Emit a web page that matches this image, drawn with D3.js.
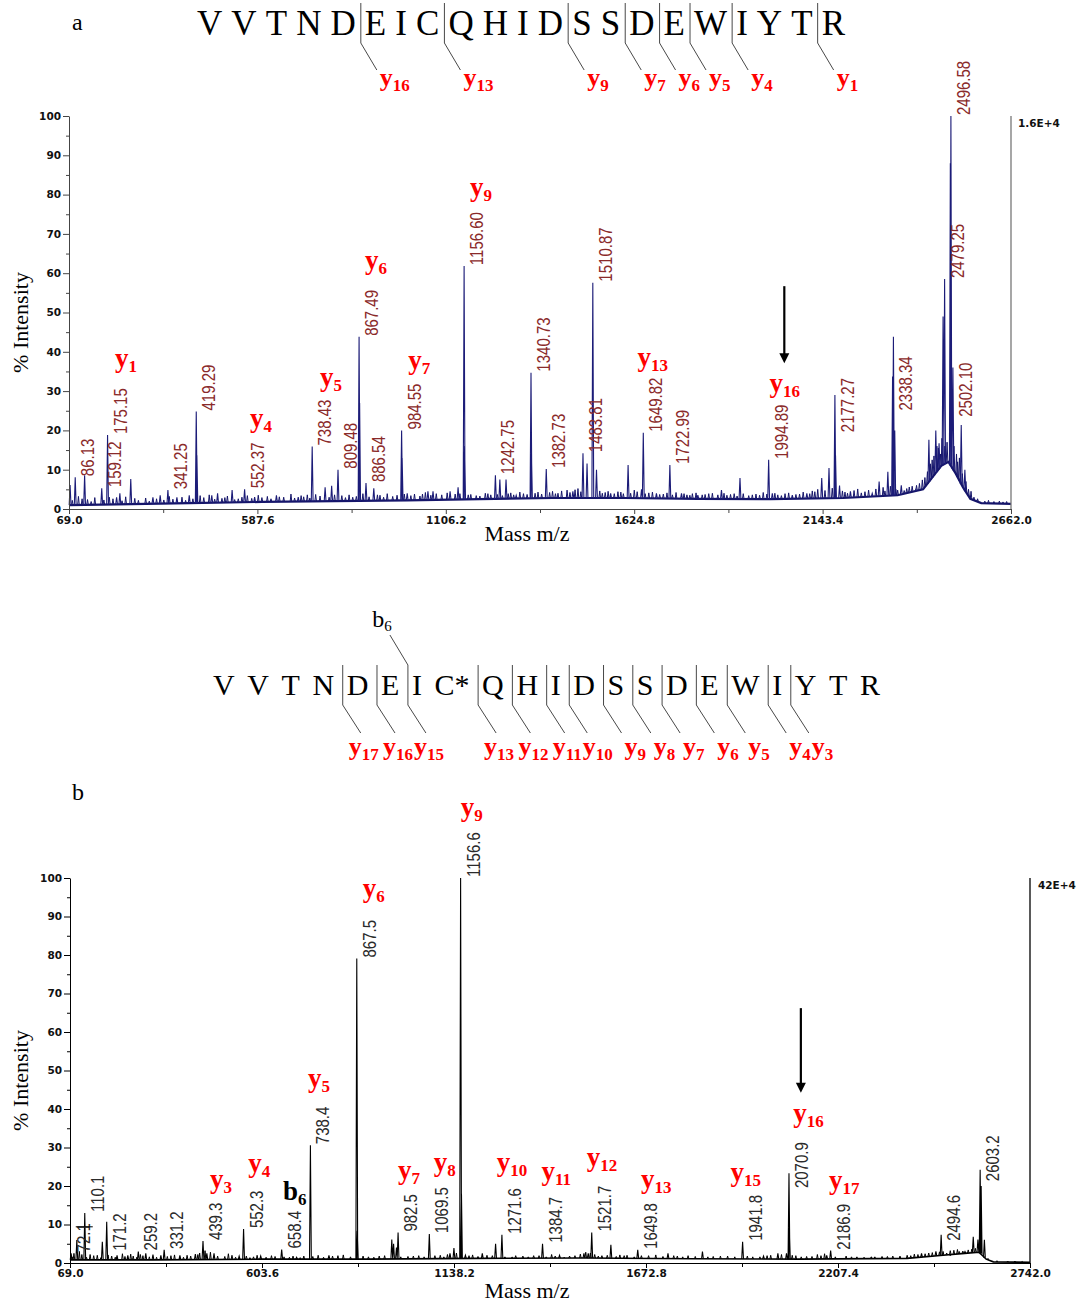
<!DOCTYPE html>
<html>
<head>
<meta charset="utf-8">
<script src="https://cdn.jsdelivr.net/npm/d3@7"></script>
<style>
  body { margin: 0; background: #fff; }
  svg { display: block; }
</style>
</head>
<body>
<svg id="fig" width="1079" height="1309"></svg>
<script>
// ---------------- data ----------------
// peptide sequences (b has the modified cysteine)
const seqA = ["V","V","T","N","D","E","I","C","Q","H","I","D","S","S","D","E","W","I","Y","T","R"];
const seqB = ["V","V","T","N","D","E","I","C*","Q","H","I","D","S","S","D","E","W","I","Y","T","R"];
const yIonsA = [16, 13, 9, 7, 6, 5, 4, 1];
const yIonsB = [17, 16, 15, 13, 12, 11, 10, 9, 8, 7, 6, 5, 4, 3];
const bIonsB = [6];

// axis ticks
const xTicksA = [69.0, 587.6, 1106.2, 1624.8, 2143.4, 2662.0];
const xTicksB = [69.0, 603.6, 1138.2, 1672.8, 2207.4, 2742.0];
const yTicks = [0, 10, 20, 30, 40, 50, 60, 70, 80, 90, 100];
const yMinorTicks = [5, 15, 25, 35, 45, 55, 65, 75, 85, 95];
const maxCountA = "1.6E+4";
const maxCountB = "42E+4";

// spectrum a: annotated peaks [m/z, % intensity]
const labeledA = [
  [86.13, 8.1], [159.12, 5.3], [175.15, 18.8], [341.25, 4.8], [419.29, 24.8],
  [552.37, 5.0], [738.43, 15.9], [809.48, 10.0], [867.49, 43.8], [886.54, 6.6],
  [984.55, 20.0], [1156.60, 61.8], [1242.75, 8.6], [1340.73, 34.7], [1382.73, 10.2],
  [1483.81, 14.2], [1510.87, 57.6], [1649.82, 19.4], [1722.99, 11.2], [1994.89, 12.5],
  [2177.27, 29.0], [2338.34, 43.8], [2479.25, 58.5], [2496.58, 100], [2502.10, 36.0]
];
// spectrum a: other visible peaks
const peaksA = [
  [72, 6.1], [112, 8.6], [200, 3.0], [209, 4.0], [239, 7.6], [300, 3.0], [320, 3.5],
  [366, 3.0], [400, 3.5], [421, 13.7], [462, 3.5], [478, 4.0], [518, 4.8], [580, 3.0],
  [640, 3.5], [700, 3.0], [774, 5.5], [792, 5.9], [869, 27.0], [908, 5.3], [986, 13.0],
  [1000, 4.0], [1057, 4.5], [1071, 4.5], [1118, 4.5], [1140, 5.5], [1158, 16.0],
  [1255, 7.5], [1272, 7.5], [1300, 3.5], [1342, 14.0], [1456, 4.5], [1495, 11.6],
  [1521, 10.0], [1560, 4.0], [1608, 11.2], [1645, 5.0], [1686, 4.0], [1755, 4.0],
  [1800, 3.5], [1865, 4.8], [1916, 7.9], [2005, 4.0], [2060, 3.5], [2100, 4.0],
  [2141, 7.9], [2161, 10.4], [2179, 13.6], [2190, 6.0], [2220, 4.5], [2280, 4.0],
  [2299, 7.0], [2323, 9.5], [2336, 33.7], [2342, 20.0], [2360, 6.0], [2400, 5.0],
  [2436, 17.6], [2455, 20.0], [2464, 16.7], [2475, 49.0], [2495, 88.0], [2525, 21.4],
  [2535, 10.0]
];
// spectrum a: baseline noise spikes
const noiseA = [
  [78, 2.2], [95, 3.2], [105, 2.6], [120, 2.4], [130, 1.9], [140, 2.9], [165, 2.3],
  [180, 3.0], [190, 2.6], [215, 2.1], [225, 3.1], [250, 2.7], [260, 2.2], [280, 2.8],
  [290, 2.0], [310, 2.6], [330, 2.3], [345, 3.2], [355, 2.5], [380, 3.0], [390, 2.2],
  [410, 2.6], [430, 3.4], [440, 2.9], [455, 3.6], [470, 2.5], [490, 2.7], [498, 2.9],
  [505, 3.3], [525, 2.4], [535, 2.6], [545, 3.0], [560, 3.4], [572, 2.7], [590, 3.5],
  [600, 2.9], [615, 3.2], [625, 2.6], [648, 3.1], [660, 3.0], [680, 3.8], [690, 2.8],
  [708, 3.4], [715, 3.1], [725, 3.6], [732, 2.8], [748, 3.7], [760, 3.3], [785, 3.0],
  [800, 3.6], [820, 3.4], [830, 2.9], [840, 3.6], [850, 3.0], [860, 3.2], [878, 3.9],
  [895, 3.1], [918, 3.6], [925, 3.5], [935, 3.0], [945, 3.9], [960, 3.2], [972, 3.5],
  [992, 3.8], [1010, 3.4], [1020, 3.8], [1035, 3.3], [1042, 3.8], [1050, 4.2],
  [1065, 3.5], [1080, 3.9], [1095, 3.6], [1110, 4.1], [1132, 3.8], [1145, 3.9],
  [1168, 3.6], [1175, 3.7], [1190, 3.4], [1200, 3.3], [1215, 4.0], [1222, 3.9],
  [1230, 3.6], [1248, 3.7], [1262, 3.4], [1278, 3.9], [1285, 4.1], [1293, 3.6],
  [1310, 4.3], [1320, 3.9], [1330, 3.7], [1352, 4.0], [1360, 4.3], [1370, 3.8],
  [1392, 4.2], [1400, 4.5], [1408, 3.9], [1415, 4.0], [1425, 4.6], [1440, 4.8],
  [1448, 4.2], [1462, 4.9], [1470, 5.2], [1478, 4.4], [1530, 4.6], [1537, 4.0],
  [1545, 4.2], [1553, 4.5], [1570, 3.9], [1580, 4.4], [1588, 4.3], [1595, 3.9],
  [1615, 4.0], [1625, 4.8], [1633, 4.4], [1655, 3.9], [1665, 4.1], [1675, 4.3],
  [1695, 3.7], [1705, 3.8], [1715, 4.1], [1730, 3.6], [1740, 4.2], [1762, 3.9],
  [1770, 3.6], [1778, 3.5], [1785, 3.9], [1795, 4.1], [1812, 3.6], [1820, 3.7],
  [1830, 3.9], [1840, 4.0], [1855, 3.6], [1872, 4.0], [1880, 3.5], [1890, 3.7],
  [1900, 3.9], [1908, 3.3], [1925, 3.9], [1940, 3.4], [1950, 3.6], [1960, 3.8],
  [1970, 3.5], [1980, 4.2], [1990, 3.8], [2012, 4.0], [2020, 3.6], [2030, 3.4],
  [2040, 3.9], [2050, 4.1], [2070, 3.7], [2080, 3.8], [2090, 4.3], [2108, 3.9],
  [2115, 4.6], [2122, 4.4], [2130, 5.0], [2150, 4.7], [2170, 5.3], [2198, 4.6],
  [2205, 4.3], [2212, 4.0], [2230, 4.7], [2240, 5.1], [2250, 4.1], [2260, 4.4],
  [2270, 4.8], [2290, 5.1], [2310, 5.5], [2315, 4.6], [2330, 5.8], [2345, 5.0],
  [2350, 4.8], [2368, 4.7], [2375, 5.2], [2382, 5.6], [2390, 5.8], [2402, 6.0],
  [2410, 6.5], [2418, 7.4], [2425, 8.0], [2432, 9.5], [2440, 11.5], [2445, 12.5],
  [2450, 13.5], [2458, 16.0], [2462, 15.5], [2468, 14.0], [2472, 18.0], [2480, 16.0],
  [2486, 17.0], [2505, 16.0], [2512, 14.0], [2515, 12.0], [2520, 13.0], [2528, 9.0],
  [2538, 7.0], [2545, 5.0], [2552, 4.5], [2560, 3.0], [2570, 2.6], [2590, 2.0],
  [2600, 2.2], [2615, 1.9], [2630, 2.0], [2640, 1.8], [2650, 1.9]
];
const baselineA = [
  [69, 1.0], [200, 1.2], [400, 1.5], [600, 1.8], [800, 2.0], [1000, 2.2], [1200, 2.5],
  [1400, 2.8], [1600, 2.8], [1800, 2.6], [2000, 2.5], [2200, 2.8], [2350, 3.5],
  [2420, 5.0], [2445, 8.0], [2470, 11.0], [2490, 12.0], [2510, 9.0], [2530, 5.5],
  [2550, 2.6], [2580, 1.5], [2662, 1.3]
];

// spectrum b: annotated peaks [m/z, % intensity]
const labeledB = [
  [72.1, 2.5], [110.1, 13.0], [171.2, 10.7], [259.2, 3.0], [331.2, 3.4], [439.3, 5.7],
  [552.3, 8.8], [658.4, 3.5], [738.4, 30.6], [867.5, 79.1], [982.5, 7.9], [1069.5, 7.5],
  [1156.6, 100], [1271.6, 7.3], [1384.7, 5.0], [1521.7, 7.9], [1649.8, 3.4],
  [1941.8, 5.5], [2070.9, 23.3], [2186.9, 3.2], [2494.6, 7.3], [2603.2, 24.2]
];
const peaksB = [
  [88, 6.0], [159, 5.5], [200, 2.0], [230, 2.0], [280, 2.5], [300, 2.2], [322, 2.0],
  [375, 2.0], [418, 2.3], [450, 2.5], [470, 2.5], [540, 1.8], [600, 1.8], [700, 1.5],
  [790, 2.0], [869, 8.4], [965, 6.1], [970, 5.0], [978, 4.0], [1127, 2.5], [1138, 3.9],
  [1159, 18.0], [1170, 2.0], [1217, 2.5], [1254, 5.0], [1300, 1.5], [1432, 2.0],
  [1500, 2.5], [1512, 2.5], [1575, 4.7], [1734, 2.5], [1830, 3.0], [2000, 1.8],
  [2040, 2.5], [2064, 2.5], [2072, 9.0], [2176, 2.0], [2300, 1.5], [2440, 2.5],
  [2480, 3.0], [2520, 2.0], [2561, 3.0], [2584, 6.8], [2597, 6.1], [2606, 20.0],
  [2615, 6.0]
];
const noiseB = [
  [75, 1.6], [80, 2.5], [95, 3.0], [102, 2.2], [115, 1.5], [125, 2.2], [135, 1.9],
  [145, 2.0], [155, 1.4], [175, 2.1], [185, 1.8], [195, 1.5], [215, 2.4], [222, 1.7],
  [238, 2.3], [245, 1.8], [255, 1.5], [265, 2.2], [272, 1.9], [290, 1.6], [310, 1.5],
  [340, 1.7], [350, 1.9], [360, 2.1], [385, 1.5], [395, 2.0], [405, 1.8], [425, 2.2],
  [430, 2.6], [445, 3.2], [460, 2.8], [480, 1.8], [500, 1.7], [510, 2.4], [520, 2.0],
  [530, 1.5], [560, 1.8], [570, 1.4], [580, 1.6], [590, 2.0], [615, 1.5], [630, 1.9],
  [640, 1.7], [665, 1.6], [680, 1.5], [690, 1.8], [710, 1.4], [720, 1.8], [745, 1.7],
  [760, 2.0], [775, 1.5], [800, 1.8], [815, 1.9], [830, 2.1], [850, 1.6], [885, 1.8],
  [900, 1.6], [915, 1.5], [930, 1.8], [945, 1.9], [990, 1.6], [1010, 1.7], [1025, 1.8],
  [1040, 1.9], [1055, 1.6], [1085, 1.9], [1100, 2.0], [1110, 1.6], [1120, 2.2],
  [1145, 2.6], [1180, 1.9], [1190, 2.1], [1205, 1.7], [1230, 2.0], [1245, 1.9],
  [1280, 1.6], [1310, 1.9], [1330, 1.8], [1345, 1.6], [1360, 1.9], [1375, 1.9],
  [1395, 1.6], [1410, 2.2], [1420, 1.8], [1445, 1.5], [1460, 1.8], [1475, 1.9],
  [1490, 2.3], [1505, 2.8], [1518, 2.6], [1530, 2.2], [1540, 1.8], [1550, 1.9],
  [1565, 2.0], [1590, 1.7], [1600, 2.1], [1612, 1.9], [1620, 2.0], [1640, 1.6],
  [1660, 1.9], [1680, 1.9], [1700, 2.1], [1720, 1.7], [1750, 1.9], [1760, 1.8],
  [1775, 1.6], [1790, 1.9], [1810, 1.7], [1845, 1.6], [1860, 1.7], [1880, 1.8],
  [1900, 1.8], [1920, 1.6], [1955, 1.8], [1970, 1.6], [1990, 1.6], [2010, 1.9],
  [2020, 2.0], [2050, 2.2], [2080, 2.0], [2090, 1.9], [2105, 1.6], [2120, 1.7],
  [2135, 1.7], [2150, 2.2], [2160, 1.9], [2170, 2.4], [2200, 1.6], [2230, 1.8],
  [2245, 1.6], [2260, 1.6], [2280, 1.5], [2310, 1.6], [2330, 1.7], [2345, 1.7],
  [2360, 1.8], [2380, 1.8], [2400, 2.0], [2410, 1.9], [2420, 2.3], [2430, 2.2],
  [2450, 2.4], [2460, 2.6], [2470, 2.7], [2490, 2.9], [2500, 3.0], [2510, 2.6],
  [2520, 3.2], [2530, 3.3], [2540, 3.5], [2545, 3.0], [2555, 3.1], [2570, 3.4],
  [2580, 3.6], [2590, 3.8], [2625, 1.2], [2650, 0.6], [2680, 0.5], [2700, 0.5],
  [2720, 0.4]
];
const baselineB = [
  [69, 0.8], [300, 0.8], [600, 1.0], [900, 1.0], [1200, 1.2], [1500, 1.3], [1800, 1.1],
  [2100, 1.0], [2400, 1.2], [2500, 2.0], [2560, 2.5], [2600, 2.8], [2620, 1.0],
  [2640, 0.3], [2742, 0.2]
];

// m/z labels that sit beside their peak rather than on top (level in %)
const labelLevelA = { "2177.27": 19.3, "2338.34": 24.8, "2502.10": 23.2 };
const labelLevelB = { "171.2": 2.9, "2070.9": 19.2, "2494.6": 5.5, "2603.2": 21.0 };

// fragment-ion tags in the spectra: [ion, index, m/z, % level]
const ionTagsA = [
  ["y", 1, 195.6, 36.1], ["y", 4, 567, 20.9], ["y", 5, 760, 31.4], ["y", 6, 884, 61.1],
  ["y", 7, 1003, 35.6], ["y", 9, 1173, 79.7], ["y", 13, 1634, 36.5], ["y", 16, 1997, 29.7]
];
const ionTagsB = [
  ["y", 3, 459, 19.6], ["y", 4, 565, 23.6], ["b", 6, 662, 16.4], ["y", 5, 732, 45.7],
  ["y", 6, 884, 95.1], ["y", 7, 982, 21.7], ["y", 8, 1082, 23.9], ["y", 9, 1157, 116.2],
  ["y", 10, 1257, 23.9], ["y", 11, 1382, 21.6], ["y", 12, 1507.5, 25.3],
  ["y", 13, 1659, 19.5], ["y", 15, 1908, 21.4], ["y", 16, 2083, 36.6], ["y", 17, 2182, 19.2]
];
// expected y16 position marked by an arrow: [m/z, from %, to %]
const arrowA = [2038, 56.7, 37.1];
const arrowB = [2104, 66.2, 44.2];
// cursor cross left on the b spectrum: [m/z, %]
const cursorB = [110.1, 9.4];

// ---------------- drawing ----------------
const svg = d3.select("#fig");
const SERIF = "'Liberation Serif', 'Times New Roman', serif";
const SANS = "'Liberation Sans', Arial, sans-serif";
const TICKFONT = "'DejaVu Sans', Verdana, sans-serif";

function ionText(g, ion, n, x, y, opts) {
  const t = g.append("text")
    .attr("x", x).attr("y", y)
    .attr("text-anchor", opts.anchor || "start")
    .attr("font-family", SERIF)
    .attr("font-weight", opts.weight || "bold")
    .attr("font-size", opts.size || 26)
    .attr("fill", opts.color || "#ff0000");
  t.append("tspan").text(ion);
  t.append("tspan").attr("font-size", opts.subSize || 17).attr("dy", opts.subDy || 5).text(n);
  return t;
}

function drawSequence(g, seq, o) {
  const texts = g.selectAll("text.res").data(seq).join("text")
    .attr("class", "res")
    .attr("y", o.baseline)
    .attr("font-family", SERIF)
    .attr("font-size", o.size)
    .attr("fill", "#000")
    .text(d => d);
  const widths = texts.nodes().map(n => n.getComputedTextLength());
  const gap = (o.x1 - o.x0 - d3.sum(widths)) / (seq.length - 1);
  const lefts = [];
  let cx = o.x0;
  widths.forEach(w => { lefts.push(cx); cx += w + gap; });
  texts.attr("x", (d, i) => lefts[i]);
  return lefts;
}

function drawPanel(cfg) {
  const g = svg.append("g");
  const x = d3.scaleLinear().domain(cfg.domain).range(cfg.xRange);
  const y = d3.scaleLinear().domain([0, 100]).range(cfg.yRange);
  const base = d3.scaleLinear().domain(cfg.baseline.map(d => d[0])).range(cfg.baseline.map(d => d[1]));

  // spectrum trace: baseline + peaks
  const line = d3.line().x(d => x(d[0])).y(d => y(d[1]));
  g.append("path").attr("d", line(cfg.baseline))
    .attr("fill", "none").attr("stroke", cfg.trace).attr("stroke-width", cfg.baseWidth);
  const spikes = (list, hw) => list.map(([m, v]) => {
    const px = x(m), b = y(base(m));
    return `M${px - hw},${b}L${px},${y(v)}L${px + hw},${b}`;
  }).join("");
  g.append("path").attr("d", spikes(cfg.noise, 0.8))
    .attr("fill", "none").attr("stroke", cfg.trace).attr("stroke-width", 1);
  const allPeaks = cfg.peaks.concat(cfg.labeled).sort((a, b) => a[0] - b[0]);
  g.append("path").attr("d", spikes(allPeaks, 0.9))
    .attr("fill", "none").attr("stroke", cfg.peakColor).attr("stroke-width", 1.1);

  // axes
  g.append("g").attr("transform", `translate(${cfg.xRange[0]},0)`)
    .call(d3.axisLeft(y).tickValues(yTicks).tickSize(6).tickSizeOuter(0).tickPadding(2).tickFormat(d3.format("d")));
  g.append("g").attr("transform", `translate(${cfg.xRange[0]},0)`)
    .call(d3.axisLeft(y).tickValues(yMinorTicks).tickSize(3).tickFormat(""))
    .call(s => s.select(".domain").remove());
  g.append("g").attr("transform", `translate(0,${cfg.yRange[0]})`)
    .call(d3.axisBottom(x).tickValues(cfg.xTicks).tickSize(5).tickSizeOuter(0).tickPadding(cfg.xPad).tickFormat(d3.format(".1f")));
  g.append("g").attr("transform", `translate(0,${cfg.yRange[0]})`)
    .call(d3.axisBottom(x).tickValues(d3.pairs(cfg.xTicks).map(([a, b]) => (a + b) / 2)).tickSize(4).tickFormat(""))
    .call(s => s.select(".domain").remove());
  g.selectAll(".tick text")
    .attr("font-family", TICKFONT).attr("font-weight", "bold").attr("font-size", 10.5).attr("fill", "#111");
  g.selectAll(".domain, .tick line").attr("stroke", cfg.axisColor);

  // right frame line and full-scale count
  g.append("line")
    .attr("x1", cfg.xRange[1]).attr("x2", cfg.xRange[1])
    .attr("y1", cfg.yRange[0]).attr("y2", cfg.yRange[1])
    .attr("stroke", cfg.rightColor).attr("stroke-width", 1.3);
  g.append("text")
    .attr("x", cfg.xRange[1] + cfg.countDx).attr("y", cfg.yRange[1] + 11)
    .attr("font-family", TICKFONT).attr("font-weight", "bold").attr("font-size", 10.5)
    .attr("fill", "#111").text(cfg.count);

  // axis titles
  const midY = (cfg.yRange[0] + cfg.yRange[1]) / 2;
  g.append("text")
    .attr("transform", `translate(28,${midY + 10}) rotate(-90)`)
    .attr("text-anchor", "middle").attr("font-family", SERIF).attr("font-size", 22)
    .attr("fill", "#000").text("% Intensity");
  g.append("text")
    .attr("x", 527).attr("y", cfg.yRange[0] + cfg.titleDy)
    .attr("text-anchor", "middle").attr("font-family", SERIF).attr("font-size", 22)
    .attr("fill", "#000").text("Mass m/z");

  // m/z labels on peaks
  g.selectAll("text.mz").data(cfg.labeled).join("text")
    .attr("class", "mz")
    .attr("transform", d => {
      const key = cfg.fmt(d[0]);
      const lvl = key in cfg.labelLevel ? cfg.labelLevel[key] : d[1];
      return `translate(${x(d[0]) + 19},${y(lvl) - 1}) scale(1.25,1) rotate(-90)`;
    })
    .attr("font-family", SANS).attr("font-size", 15)
    .attr("fill", cfg.labelColor)
    .text(d => cfg.fmt(d[0]));

  // ion tags
  cfg.ionTags.forEach(([ion, n, m, v]) => {
    ionText(g, ion, n, x(m), y(v), { color: ion === "y" ? "#ff0000" : "#000", size: 27 });
  });

  // arrow
  const [am, a0, a1] = cfg.arrow;
  const ax = x(am), ay0 = y(a0), ay1 = y(a1);
  g.append("line").attr("x1", ax).attr("x2", ax).attr("y1", ay0).attr("y2", ay1 - 6)
    .attr("stroke", "#000").attr("stroke-width", 2.2);
  g.append("path").attr("d", `M${ax - 5},${ay1 - 10}L${ax + 5},${ay1 - 10}L${ax},${ay1}Z`).attr("fill", "#000");

  return { g, x, y };
}

// ----- panel a -----
svg.append("text").attr("x", 72).attr("y", 30).attr("font-family", SERIF).attr("font-size", 24).text("a");
const topA = svg.append("g");
const leftsA = drawSequence(topA, seqA, { x0: 197, x1: 845, baseline: 35, size: 35 });
yIonsA.forEach(n => {
  const lx = leftsA[seqA.length - n] - 4;
  topA.append("path").attr("d", `M${lx},3L${lx},43L${lx + 16},70`)
    .attr("fill", "none").attr("stroke", "#333").attr("stroke-width", 0.9);
  ionText(topA, "y", n, lx + 19, 86, { size: 26 });
});

drawPanel({
  domain: [69, 2662], xRange: [69, 1011], yRange: [509, 116],
  xTicks: xTicksA, xPad: 3, titleDy: 32,
  baseline: baselineA, noise: noiseA, peaks: peaksA, labeled: labeledA,
  trace: "#15156a", peakColor: "#1c1c78", baseWidth: 2.2, axisColor: "#444", rightColor: "#777",
  count: maxCountA, countDx: 7,
  fmt: d3.format(".2f"), labelLevel: labelLevelA, labelColor: "#8a2a2a",
  ionTags: ionTagsA, arrow: arrowA
});

// ----- panel b -----
svg.append("text").attr("x", 72).attr("y", 800).attr("font-family", SERIF).attr("font-size", 24).text("b");
const topB = svg.append("g");
const leftsB = drawSequence(topB, seqB, { x0: 213, x1: 880, baseline: 695, size: 30 });
let prevRight = -Infinity;
yIonsB.forEach(n => {
  const lx = leftsB[seqB.length - n] - 4;
  topB.append("path").attr("d", `M${lx},665L${lx},705L${lx + 18},733`)
    .attr("fill", "none").attr("stroke", "#333").attr("stroke-width", 0.9);
  // tag sits under the end of its leader, nudged right so neighbours never collide
  let tx = lx + 18 - (n >= 10 ? 12 : -3);
  const t = ionText(topB, "y", n, tx, 755, { size: 26 });
  const w = t.node().getComputedTextLength();
  if (tx < prevRight + 1) { tx = prevRight + 1; t.attr("x", tx); }
  prevRight = tx + w;
});
bIonsB.forEach(n => {
  const lx = leftsB[n] - 4;
  topB.append("path").attr("d", `M${lx - 18},635L${lx},665`)
    .attr("fill", "none").attr("stroke", "#333").attr("stroke-width", 0.9);
  ionText(topB, "b", n, lx - 26, 627, { size: 24, subSize: 15, weight: "normal", color: "#000", anchor: "middle", subDy: 4 });
});

const pb = drawPanel({
  domain: [69, 2742], xRange: [70, 1030], yRange: [1263, 878],
  xTicks: xTicksB, xPad: 2, titleDy: 35,
  baseline: baselineB, noise: noiseB, peaks: peaksB, labeled: labeledB,
  trace: "#000", peakColor: "#000", baseWidth: 1.6, axisColor: "#000", rightColor: "#000",
  count: maxCountB, countDx: 8,
  fmt: d3.format(".1f"), labelColor: "#2a2a2a", labelLevel: labelLevelB,
  ionTags: ionTagsB, arrow: arrowB
});
// cursor cross
pb.g.append("line")
  .attr("x1", pb.x(cursorB[0]) - 9).attr("x2", pb.x(cursorB[0]) + 8)
  .attr("y1", pb.y(cursorB[1])).attr("y2", pb.y(cursorB[1]))
  .attr("stroke", "#000").attr("stroke-width", 1);
</script>
</body>
</html>
